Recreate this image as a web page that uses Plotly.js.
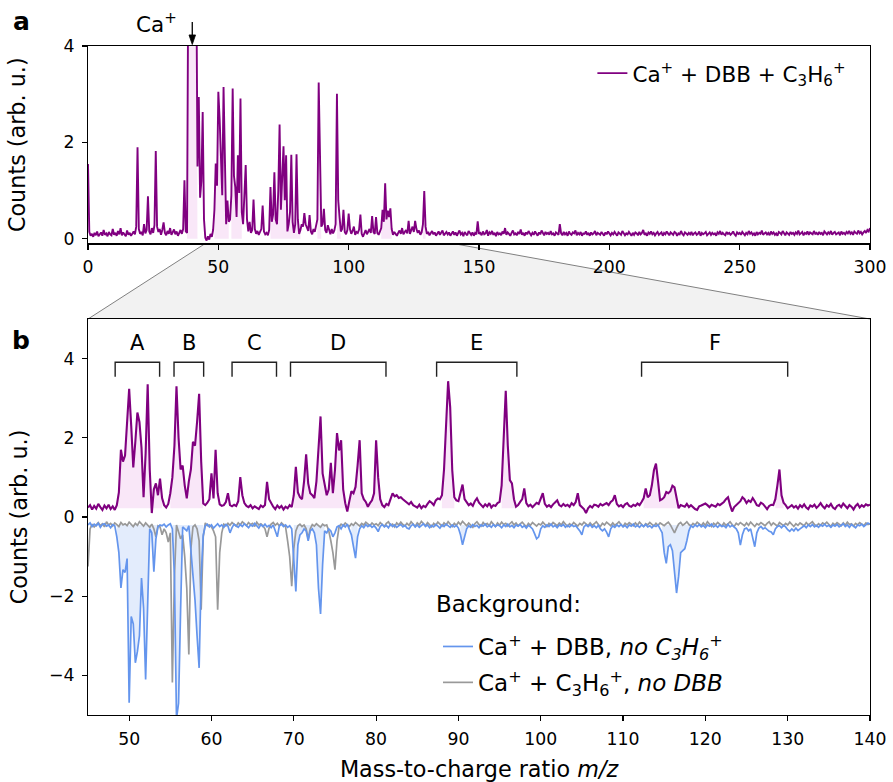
<!DOCTYPE html>
<html><head><meta charset="utf-8">
<script src="https://cdn.plot.ly/plotly-3.0.1.min.js"></script>
<style>html,body{margin:0;padding:0;background:#fff}#chart{width:893px;height:782px}</style>
</head><body><div id="chart"></div>
<script>
// ---------- data ----------
// Panel a: full spectrum, m/z 0..300, step 0.5
const fullStart = 0, fullStep = 0.5;
const fullCounts = [
1.55,0.14,0.06,0.10,0.04,0.12,0.07,0.15,0.05,0.09,
0.13,0.06,0.18,0.08,0.11,0.05,0.14,0.09,0.07,0.20,
0.08,0.12,0.06,0.16,0.09,0.22,0.07,0.13,0.10,0.05,
0.17,0.08,0.12,0.06,0.10,0.15,0.09,0.25,1.90,0.20,
0.10,0.14,0.07,0.30,0.11,0.18,0.88,0.15,0.09,0.22,
0.12,0.28,1.82,0.25,0.14,0.20,0.08,0.18,0.34,0.12,
0.07,0.16,0.10,0.22,0.08,0.13,0.19,0.09,0.15,0.06,
0.12,0.18,0.10,0.20,1.21,0.15,0.12,6.00,8.00,8.00,
8.00,8.00,8.00,6.00,1.50,2.94,0.85,1.20,2.63,0.40,
0.02,-0.04,0.05,-0.02,0.10,0.04,0.18,0.60,1.56,1.10,
3.05,2.49,1.40,0.90,3.15,1.20,0.30,0.79,0.35,0.40,
0.90,3.12,1.30,1.07,0.45,1.73,0.95,2.91,0.55,0.30,
0.89,1.53,0.40,0.15,0.35,0.12,0.18,0.81,0.20,0.10,
0.16,0.08,0.14,0.20,0.69,0.15,0.09,0.12,0.07,0.18,
1.07,0.35,0.50,1.38,0.40,0.30,1.00,2.37,0.60,1.19,
1.92,0.80,1.73,0.15,0.30,0.55,1.74,0.35,0.12,0.30,
1.75,0.40,0.10,0.18,0.30,0.25,0.53,0.30,0.22,0.16,
0.49,0.15,0.09,0.20,0.14,0.25,0.40,3.24,1.20,0.25,
0.30,0.62,0.18,0.12,0.28,0.15,0.09,0.20,0.11,0.17,
0.30,3.01,0.80,0.45,0.15,0.20,0.60,0.14,0.09,0.18,
0.52,0.20,0.10,0.16,0.25,0.08,0.14,0.12,0.19,0.50,
0.10,0.04,0.12,0.18,0.09,0.15,0.20,0.12,0.47,0.14,
0.10,0.45,0.12,0.08,0.16,0.22,0.60,0.35,1.15,0.40,
0.58,0.45,0.63,0.20,0.08,0.14,0.10,0.06,0.12,0.17,
0.10,0.22,0.09,0.13,0.18,0.11,0.37,0.10,0.16,0.25,
0.14,0.37,0.20,0.12,0.17,0.08,0.13,0.30,0.99,0.25,
0.10,0.14,0.07,0.12,0.16,0.09,0.13,0.06,0.11,0.15,
0.08,0.12,0.17,0.07,0.10,0.14,0.09,0.13,0.06,0.11,
0.15,
0.08,0.13,0.06,0.11,0.17,0.09,0.12,0.05,0.14,0.10,0.07,0.16,0.11,0.08,0.13,0.06,0.12,0.09,0.36,0.10,
0.12,0.07,0.15,0.09,0.11,0.18,0.06,0.13,0.10,0.16,0.08,0.12,0.05,0.14,0.09,0.11,0.07,0.15,0.10,0.22,
0.08,0.13,0.10,0.06,0.12,0.17,0.09,0.11,0.07,0.14,0.10,0.19,0.08,0.12,0.06,0.13,0.09,0.16,0.11,0.07,
0.12,0.08,0.15,0.10,0.06,0.13,0.09,0.17,0.11,0.07,0.14,0.10,0.12,0.08,0.16,0.09,0.11,0.06,0.13,0.10,
0.08,0.30,0.11,0.07,0.14,0.09,0.12,0.06,0.15,0.10,0.08,0.13,0.11,0.17,0.07,0.12,0.09,0.14,0.06,0.11,
0.10,0.15,0.08,0.12,0.06,0.13,0.09,0.11,0.16,0.07,0.12,0.10,0.08,0.14,0.11,0.06,0.13,0.09,0.15,0.10,
0.07,0.12,0.09,0.14,0.11,0.06,0.13,0.10,0.08,0.16,0.12,0.07,0.11,0.09,0.14,0.10,0.06,0.12,0.08,0.13,
0.11,0.07,0.14,0.09,0.12,0.18,0.08,0.11,0.06,0.13,0.10,0.15,0.09,0.12,0.07,0.11,0.14,0.08,0.10,0.13,
0.06,0.12,0.09,0.15,0.11,0.07,0.13,0.10,0.08,0.14,0.12,0.06,0.11,0.09,0.16,0.10,0.07,0.13,0.11,0.08,
0.12,0.09,0.14,0.07,0.11,0.13,0.08,0.10,0.15,0.06,0.12,0.09,0.11,0.14,0.07,0.10,0.13,0.08,0.12,0.09,
0.11,0.06,0.13,0.10,0.16,0.08,0.12,0.09,0.07,0.14,0.10,0.12,0.08,0.11,0.15,0.09,0.06,0.13,0.10,0.12,
0.08,0.14,0.11,0.07,0.12,0.09,0.16,0.10,0.13,0.08,0.11,0.06,0.14,0.09,0.12,0.10,0.17,0.08,0.11,0.13,
0.09,0.12,0.07,0.15,0.10,0.13,0.08,0.11,0.06,0.14,0.12,0.09,0.16,0.10,0.07,0.13,0.11,0.08,0.14,0.10,
0.12,0.08,0.13,0.10,0.17,0.09,0.11,0.14,0.07,0.12,0.10,0.15,0.08,0.13,0.11,0.09,0.16,0.10,0.12,0.08,
0.14,0.10,0.12,0.07,0.15,0.11,0.09,0.13,0.10,0.16,0.08,0.12,0.14,0.09,0.11,0.13,0.07,0.15,0.10,0.12,
0.09,0.14,0.11,0.16,0.10,0.13,0.08,0.15,0.12,0.10,0.17,0.11,0.14,0.09,0.13,0.16,0.12,0.18,0.15,0.22
];

// Panel b: zoom m/z 45..140, step 0.25
const zoomStart = 45, zoomStep = 0.25;
const zoomSignal = [
0.24,0.30,0.19,0.28, 0.21,0.33,0.25,0.18, 0.29,0.22,0.31,0.20, 0.27,0.18,0.30,0.62,
1.70,1.40,1.55,2.55, 3.24,2.30,1.25,1.90, 2.64,2.40,1.75,0.50, 1.60,3.35,1.20,0.10,
0.70,0.85,0.55,0.97, 0.48,0.30,0.24,0.33, 0.60,1.00,1.80,3.30, 2.00,1.20,1.30,0.80,
0.47,0.90,1.20,1.90, 1.80,2.40,3.11,1.40, 0.34,0.30,0.36,0.45, 1.10,0.47,1.70,0.60,
0.32,0.28,0.30,0.38, 0.60,0.30,0.27,0.31, 0.28,0.40,1.01,0.55, 0.35,0.28,0.25,0.30,
0.22,0.27,0.24,0.20, 0.29,0.25,0.30,0.89, 0.45,0.35,0.26,0.20, 0.29,0.23,0.28,0.19,
0.26,0.22,0.30,0.25, 0.55,1.27,0.62,0.50, 0.45,0.90,1.58,0.85, 0.60,0.55,0.48,0.90,
1.60,2.54,1.10,0.85, 0.55,0.70,1.37,0.60, 1.18,2.12,1.68,1.94, 0.70,0.35,0.14,0.40,
0.65,0.60,0.76,1.30, 1.94,0.60,0.45,0.38, 0.26,0.35,0.42,0.60, 1.94,1.00,0.45,0.30,
0.25,0.33,0.30,0.45, 0.60,0.52,0.55,0.48, 0.50,0.45,0.40,0.36, 0.32,0.38,0.30,0.27,
0.24,0.31,0.22,0.28, 0.25,0.33,0.40,0.36, 0.30,0.42,0.47,0.45, 0.55,1.20,2.50,3.43,
2.77,1.18,0.50,0.42, 0.40,0.60,0.82,0.45, 0.38,0.30,0.34,0.28, 0.40,0.47,0.36,0.30,
0.25,0.32,0.27,0.35, 0.24,0.30,0.28,0.35, 0.38,0.80,2.00,3.19, 1.80,0.93,0.85,0.45,
0.26,0.30,0.38,0.45, 0.72,0.35,0.27,0.31, 0.25,0.30,0.36,0.33, 0.45,0.60,0.33,0.26,
0.30,0.25,0.32,0.38, 0.42,0.30,0.27,0.33, 0.28,0.31,0.26,0.35, 0.30,0.38,0.60,0.30,
0.25,0.20,0.10,0.22, 0.28,0.24,0.31,0.30, 0.26,0.33,0.29,0.32, 0.35,0.30,0.38,0.42,
0.55,0.33,0.27,0.30, 0.25,0.32,0.35,0.28, 0.26,0.31,0.28,0.34, 0.30,0.38,0.47,0.72,
0.50,0.55,0.80,1.18, 1.35,0.90,0.42,0.45, 0.50,0.63,0.60,0.65, 0.79,0.75,0.45,0.22,
0.30,0.28,0.26,0.33, 0.25,0.30,0.24,0.20, 0.18,0.27,0.29,0.32, 0.34,0.30,0.25,0.31,
0.28,0.26,0.33,0.30, 0.34,0.38,0.45,0.50, 0.30,0.14,0.25,0.30, 0.34,0.40,0.50,0.45,
0.35,0.42,0.38,0.48, 0.40,0.30,0.28,0.36, 0.33,0.25,0.20,0.28, 0.31,0.30,0.45,0.80,
1.20,0.55,0.36,0.30, 0.22,0.26,0.30,0.24, 0.28,0.21,0.30,0.25, 0.32,0.24,0.20,0.29,
0.26,0.31,0.23,0.28, 0.35,0.27,0.22,0.30, 0.26,0.33,0.24,0.20, 0.28,0.31,0.25,0.34,
0.27,0.22,0.30,0.26, 0.19,0.28,0.33,0.24, 0.30,0.26,0.32,0.29, 0.31
];
const zoomNoC3H6 = [
-0.20,-0.15,-0.24,-0.18, -0.22,-0.16,-0.26,-0.19, -0.17,-0.23,-0.20,-0.27, -0.19,-0.22,-0.50,-0.90,
-1.79,-1.33,-1.40,-1.05, -4.69,-2.51,-2.70,-3.68, -3.40,-3.00,-1.54,-2.30, -4.10,-2.20,-0.30,-0.40,
-1.38,-0.55,-0.25,-0.20, -0.22,-0.18,-0.25,-0.20, -0.17,-0.30,-1.50,-5.10, -4.70,-2.34,-0.25,-0.30,
-0.35,-0.22,-0.80,-1.33, -2.10,-3.00,-3.81,-1.50, -0.46,-0.22,-0.18,-0.25, -0.20,-0.28,-0.21,-0.17,
-0.24,-0.20,-0.26,-0.19, -0.23,-0.40,-0.27,-0.18, -0.22,-0.26,-0.19,-0.24, -0.17,-0.21,-0.27,-0.20,
-0.23,-0.16,-0.22,-0.28, -0.19,-0.24,-0.18,-0.25, -0.21,-0.27,-0.20,-0.35, -0.50,-0.22,-0.18,-0.24,
-0.20,-0.26,-0.22,-0.30, -1.20,-1.88,-0.70,-0.45, -0.40,-0.30,-0.35,-0.60, -0.35,-0.30,-0.40,-0.70,
-1.80,-2.45,-1.20,-0.35, -0.40,-0.30,-0.35,-0.50, -0.40,-0.25,-0.22,-0.30, -0.20,-0.25,-0.18,-0.30,
-0.45,-0.75,-1.04,-0.50, -0.30,-0.22,-0.27,-0.19, -0.24,-0.20,-0.26,-0.22, -0.28,-0.37,-0.24,-0.19,
-0.25,-0.21,-0.27,-0.18, -0.24,-0.20,-0.26,-0.22, -0.19,-0.25,-0.21,-0.28, -0.30,-0.22,-0.18,-0.25,
-0.20,-0.26,-0.22,-0.17, -0.24,-0.20,-0.27,-0.21, -0.25,-0.19,-0.23,-0.28, -0.20,-0.24,-0.18,-0.22,
-0.26,-0.20,-0.25,-0.21, -0.28,-0.45,-0.70,-0.50, -0.30,-0.22,-0.26,-0.19, -0.24,-0.21,-0.27,-0.20,
-0.23,-0.18,-0.25,-0.21, -0.26,-0.19,-0.24,-0.20, -0.22,-0.27,-0.20,-0.24, -0.18,-0.25,-0.21,-0.27,
-0.20,-0.23,-0.19,-0.26, -0.22,-0.28,-0.21,-0.25, -0.30,-0.42,-0.55,-0.50, -0.30,-0.22,-0.26,-0.20,
-0.24,-0.18,-0.25,-0.21, -0.27,-0.20,-0.23,-0.19, -0.26,-0.21,-0.25,-0.20, -0.24,-0.22,-0.28,-0.35,
-0.45,-0.25,-0.20,-0.24, -0.19,-0.26,-0.22,-0.27, -0.21,-0.30,-0.35,-0.30, -0.38,-0.50,-0.30,-0.22,
-0.26,-0.20,-0.24,-0.19, -0.25,-0.21,-0.27,-0.20, -0.23,-0.18,-0.25,-0.21, -0.26,-0.20,-0.24,-0.19,
-0.25,-0.22,-0.27,-0.21, -0.24,-0.20,-0.30,-0.40, -0.90,-1.17,-0.75,-0.70, -0.85,-1.40,-1.92,-1.50,
-0.90,-0.85,-0.80,-0.60, -0.35,-0.22,-0.26,-0.20, -0.24,-0.19,-0.25,-0.21, -0.27,-0.20,-0.23,-0.18,
-0.25,-0.21,-0.26,-0.20, -0.24,-0.22,-0.27,-0.19, -0.25,-0.21,-0.26,-0.30, -0.40,-0.71,-0.45,-0.30,
-0.28,-0.35,-0.30,-0.50, -0.75,-0.40,-0.28,-0.24, -0.30,-0.27,-0.32,-0.36, -0.38,-0.45,-0.30,-0.24,
-0.22,-0.27,-0.21,-0.25, -0.32,-0.36,-0.30,-0.35, -0.28,-0.34,-0.30,-0.26, -0.22,-0.27,-0.20,-0.24,
-0.19,-0.25,-0.21,-0.26, -0.20,-0.23,-0.18,-0.24, -0.21,-0.26,-0.20,-0.23, -0.19,-0.25,-0.21,-0.17,
-0.24,-0.20,-0.26,-0.19, -0.23,-0.27,-0.20,-0.22, -0.18,-0.24,-0.20,-0.15, -0.18
];
const zoomNoDBB = [
-1.25,-0.30,-0.18,-0.25, -0.20,-0.14,-0.22,-0.17, -0.25,-0.12,-0.20,-0.16, -0.23,-0.15,-0.19,-0.24,
-0.14,-0.20,-0.17,-0.22, -0.13,-0.19,-0.24,-0.16, -0.21,-0.12,-0.18,-0.23, -0.15,-0.20,-0.26,-0.18,
-0.30,-0.50,-0.22,-0.25, -0.45,-0.30,-0.40,-0.63, -0.40,-4.18,-1.50,-0.20, -0.35,-0.55,-0.45,-1.00,
-1.80,-3.47,-0.80,-0.25, -0.20,-0.30,-0.60,-2.34, -0.50,-0.15,-0.22,-0.20, -0.25,-0.35,-0.50,-2.34,
-0.90,-0.40,-0.18,-0.22, -0.16,-0.21,-0.14,-0.19, -0.23,-0.15,-0.20,-0.12, -0.18,-0.22,-0.14,-0.19,
-0.16,-0.24,-0.13,-0.20, -0.17,-0.22,-0.30,-0.50, -0.28,-0.18,-0.14,-0.21, -0.16,-0.23,-0.15,-0.20,
-0.25,-0.60,-1.00,-1.75, -0.80,-0.35,-0.22,-0.18, -0.24,-0.20,-0.30,-0.55, -0.30,-0.19,-0.23,-0.17,
-0.21,-0.26,-0.18,-0.22, -0.20,-0.35,-0.60,-0.90, -1.33,-0.60,-0.25,-0.18, -0.22,-0.15,-0.20,-0.24,
-0.17,-0.21,-0.14,-0.19, -0.23,-0.16,-0.20,-0.13, -0.18,-0.22,-0.15,-0.20, -0.17,-0.22,-0.14,-0.19,
-0.24,-0.16,-0.12,-0.21, -0.18,-0.25,-0.15,-0.20, -0.13,-0.19,-0.23,-0.16, -0.21,-0.12,-0.18,-0.24,
-0.15,-0.20,-0.11,-0.17, -0.22,-0.14,-0.19,-0.25, -0.16,-0.21,-0.13,-0.18, -0.23,-0.15,-0.20,-0.12,
-0.18,-0.24,-0.16,-0.21, -0.13,-0.19,-0.11,-0.17, -0.22,-0.15,-0.20,-0.26, -0.17,-0.12,-0.19,-0.23,
-0.14,-0.20,-0.16,-0.22, -0.12,-0.18,-0.24,-0.15, -0.21,-0.13,-0.19,-0.16, -0.23,-0.17,-0.12,-0.20,
-0.15,-0.22,-0.18,-0.13, -0.19,-0.25,-0.16,-0.21, -0.14,-0.18,-0.23,-0.17, -0.20,-0.13,-0.19,-0.24,
-0.16,-0.21,-0.14,-0.18, -0.22,-0.15,-0.20,-0.12, -0.18,-0.24,-0.17,-0.21, -0.14,-0.19,-0.23,-0.16,
-0.20,-0.13,-0.18,-0.22, -0.15,-0.21,-0.17,-0.12, -0.19,-0.24,-0.16,-0.20, -0.13,-0.18,-0.22,-0.15,
-0.21,-0.17,-0.12,-0.19, -0.24,-0.16,-0.20,-0.14, -0.18,-0.22,-0.15,-0.21, -0.13,-0.19,-0.24,-0.17,
-0.20,-0.14,-0.18,-0.23, -0.16,-0.21,-0.15,-0.19, -0.22,-0.17,-0.13,-0.20, -0.30,-0.40,-0.28,-0.18,
-0.14,-0.21,-0.17,-0.12, -0.19,-0.23,-0.16,-0.20, -0.13,-0.18,-0.22,-0.15, -0.21,-0.12,-0.19,-0.24,
-0.16,-0.20,-0.14,-0.18, -0.23,-0.15,-0.21,-0.17, -0.12,-0.19,-0.24,-0.16, -0.20,-0.14,-0.18,-0.22,
-0.15,-0.21,-0.13,-0.19, -0.24,-0.17,-0.20,-0.14, -0.18,-0.22,-0.16,-0.12, -0.21,-0.15,-0.19,-0.23,
-0.14,-0.18,-0.22,-0.16, -0.20,-0.13,-0.19,-0.24, -0.17,-0.21,-0.15,-0.18, -0.22,-0.14,-0.20,-0.16,
-0.12,-0.19,-0.23,-0.17, -0.21,-0.15,-0.18,-0.13, -0.19,-0.24,-0.16,-0.20, -0.14,-0.18,-0.22,-0.15,
-0.21,-0.13,-0.19,-0.17, -0.23,-0.16,-0.20,-0.14, -0.18,-0.22,-0.15,-0.19, -0.17
];

// group brackets in panel b
const groupLabels = ['A','B','C','D','E','F'];
const groupStart  = [48.3, 55.45, 62.5, 69.6, 87.35, 112.25];
const groupEnd    = [53.7, 59.05, 67.9, 81.2, 97.1, 130.0];

// shaded regions (m/z ranges)
const caRegion = [[38.0, 42.4]];
const signalRegions = [[48.5,54.0],[55.0,59.2],[69.8,81.5],[87.9,89.6],[95.1,97.0],[112.4,116.8],[128.5,129.6]];
const bgRegions = [[48.4,53.6],[55.2,59.1],[69.8,73.9],[76.9,77.9],[90.1,91.0],[114.6,118.0]];

// ---------- styling ----------
const FONT = 'DejaVu Sans, sans-serif';
const FS = 17.3;      // tick labels
const FT = 22.3;      // axis titles
const FL = 21.5;      // top legend, annotations
const FL2 = 23;       // bottom legend
const PURPLE = '#800080', BLUE = '#6495ED', GRAY = '#999999';
const PINK_FILL = 'rgba(218,112,214,0.17)', BLUE_FILL = 'rgba(100,149,237,0.18)';
const topRange = [0, 300], zoomRange = [45, 140];

function regionPoly(x0, dx, ys, lo, hi, base) {
  const xs = [], yv = [];
  for (let i = 0; i < ys.length; i++) {
    const x = x0 + i * dx;
    if (x >= lo - 1e-9 && x <= hi + 1e-9) { xs.push(x); yv.push(ys[i]); }
  }
  return { x: xs.concat(xs.slice().reverse()), y: yv.concat(xs.map(() => base)) };
}
function fillTrace(poly, color, xa, ya) {
  return { x: poly.x, y: poly.y, xaxis: xa, yaxis: ya, type: 'scatter', mode: 'lines',
           fill: 'toself', fillcolor: color, line: { width: 0 }, showlegend: false, hoverinfo: 'skip' };
}

const traces = [];
caRegion.concat(signalRegions).forEach(r => traces.push(fillTrace(regionPoly(fullStart, fullStep, fullCounts, r[0], r[1], 0.0), PINK_FILL, 'x', 'y')));
signalRegions.forEach(r => traces.push(fillTrace(regionPoly(zoomStart, zoomStep, zoomSignal, r[0], r[1], 0.22), PINK_FILL, 'x2', 'y2')));
bgRegions.forEach(r => traces.push(fillTrace(regionPoly(zoomStart, zoomStep, zoomNoC3H6, r[0], r[1], -0.2), BLUE_FILL, 'x2', 'y2')));

traces.push({ type: 'scatter', mode: 'lines', x0: fullStart, dx: fullStep, y: fullCounts, xaxis: 'x', yaxis: 'y',
  line: { color: PURPLE, width: 1.9 }, name: 'Ca<sup>+</sup> + DBB + C<sub>3</sub>H<sub>6</sub><sup>+</sup>', legend: 'legend' });
traces.push({ type: 'scatter', mode: 'lines', x0: zoomStart, dx: zoomStep, y: zoomNoDBB, xaxis: 'x2', yaxis: 'y2',
  line: { color: GRAY, width: 1.7 }, name: 'Ca<sup>+</sup> + C<sub>3</sub>H<sub>6</sub><sup>+</sup>, <i>no DBB</i>', legend: 'legend2', legendgroup: 'g2', legendrank: 2 });
traces.push({ type: 'scatter', mode: 'lines', x0: zoomStart, dx: zoomStep, y: zoomNoC3H6, xaxis: 'x2', yaxis: 'y2',
  line: { color: BLUE, width: 1.7 }, name: 'Ca<sup>+</sup> + DBB, <i>no C<sub>3</sub>H<sub>6</sub><sup>+</sup></i>', legend: 'legend2', legendgroup: 'g1', legendrank: 1 });
traces.push({ type: 'scatter', mode: 'lines', x0: zoomStart, dx: zoomStep, y: zoomSignal, xaxis: 'x2', yaxis: 'y2',
  line: { color: PURPLE, width: 2.1 }, showlegend: false });

// shapes: brackets, zoom connector, Ca+ arrow
const shapes = [];
const bracketTop = 3.91, bracketLeg = 3.54;
groupLabels.forEach((g, i) => {
  shapes.push({ type: 'path', xref: 'x2', yref: 'y2',
    path: `M ${groupStart[i]},${bracketLeg} L ${groupStart[i]},${bracketTop} L ${groupEnd[i]},${bracketTop} L ${groupEnd[i]},${bracketLeg}`,
    line: { color: '#222', width: 1.4 } });
});
const topDom = [0.7048, 1], botDom = [0, 0.5919];
const zx0 = (zoomRange[0] - topRange[0]) / (topRange[1] - topRange[0]);
const zx1 = (zoomRange[1] - topRange[0]) / (topRange[1] - topRange[0]);
shapes.push({ type: 'path', xref: 'paper', yref: 'paper', layer: 'below',
  path: `M ${zx0},${topDom[0]} L ${zx1},${topDom[0]} L 1,${botDom[1]} L 0,${botDom[1]} Z`,
  fillcolor: '#f2f2f2', line: { width: 0 } });
shapes.push({ type: 'line', xref: 'paper', yref: 'paper', layer: 'below', x0: zx0, y0: topDom[0], x1: 0, y1: botDom[1], line: { color: '#808080', width: 1 } });
shapes.push({ type: 'line', xref: 'paper', yref: 'paper', layer: 'below', x0: zx1, y0: topDom[0], x1: 1, y1: botDom[1], line: { color: '#808080', width: 1 } });
const caX = 40.0;
shapes.push({ type: 'line', xref: 'x', yref: 'paper', x0: caX, x1: caX, y0: 1.036, y1: 1.012, line: { color: '#000', width: 1.3 } });
shapes.push({ type: 'path', xref: 'x', yref: 'paper', path: `M ${caX - 1.25},1.0165 L ${caX + 1.25},1.0165 L ${caX},1.0022 Z`,
  fillcolor: '#000', line: { color: '#000', width: 0.8 } });

const annotations = [];
groupLabels.forEach((g, i) => {
  annotations.push({ xref: 'x2', yref: 'y2', x: (groupStart[i] + groupEnd[i]) / 2, y: 4.39, text: g, showarrow: false,
    font: { family: FONT, size: 21, color: '#000' }, xanchor: 'center', yanchor: 'middle' });
});
annotations.push({ xref: 'paper', yref: 'paper', x: -0.0855, y: 1.037, text: '<b>a</b>', showarrow: false,
  font: { family: FONT, size: 25, color: '#000' }, xanchor: 'center', yanchor: 'middle' });
annotations.push({ xref: 'paper', yref: 'paper', x: -0.0855, y: 0.5605, text: '<b>b</b>', showarrow: false,
  font: { family: FONT, size: 25, color: '#000' }, xanchor: 'center', yanchor: 'middle' });
annotations.push({ xref: 'paper', yref: 'paper', x: 0.0875, y: 1.034, text: 'Ca<sup>+</sup>', showarrow: false,
  font: { family: FONT, size: FL, color: '#000' }, xanchor: 'center', yanchor: 'middle' });
// bottom legend heading
annotations.push({ xref: 'paper', yref: 'paper', x: 0.4425, y: 0.1652, text: 'Background:', showarrow: false,
  font: { family: FONT, size: FL2, color: '#000' }, xanchor: 'left', yanchor: 'middle' });

const axBase = { showline: true, mirror: true, linecolor: '#000', linewidth: 1.1, ticks: 'outside', ticklen: 5,
  tickwidth: 1.1, tickcolor: '#000', showgrid: false, zeroline: false, tickfont: { family: FONT, size: FS, color: '#000' } };

const layout = {
  width: 893, height: 782, paper_bgcolor: '#fff', plot_bgcolor: 'rgba(0,0,0,0)',
  margin: { l: 88, r: 23, t: 46, b: 67 },
  font: { family: FONT, size: FS, color: '#000' },
  xaxis: Object.assign({}, axBase, { domain: [0, 1], anchor: 'y', range: topRange, tick0: 0, dtick: 50, ticklabelstandoff: 3 }),
  yaxis: Object.assign({}, axBase, { domain: topDom, anchor: 'x', range: [-0.1, 4], tick0: 0, dtick: 2, ticklabelstandoff: 4,
    title: { text: 'Counts (arb. u.)', font: { family: FONT, size: FT }, standoff: 31 } }),
  xaxis2: Object.assign({}, axBase, { domain: [0, 1], anchor: 'y2', range: zoomRange, tick0: 50, dtick: 10, ticklabelstandoff: 3,
    title: { text: 'Mass-to-charge ratio <i>m/z</i>', font: { family: FONT, size: FT }, standoff: 16 } }),
  yaxis2: Object.assign({}, axBase, { domain: botDom, anchor: 'x2', range: [-5, 5], tick0: 0, dtick: 2, ticklabelstandoff: 4,
    title: { text: 'Counts (arb. u.)', font: { family: FONT, size: FT }, standoff: 15 } }),
  legend: { x: 0.645, y: 0.99, xanchor: 'left', yanchor: 'top', bgcolor: 'rgba(0,0,0,0)',
    font: { family: FONT, size: FL, color: '#000' } },
  legend2: { x: 0.4476, y: 0.1345, xanchor: 'left', yanchor: 'top', bgcolor: 'rgba(0,0,0,0)', tracegroupgap: 3,
    font: { family: FONT, size: FL2, color: '#000' } },
  shapes: shapes, annotations: annotations, showlegend: true
};

Plotly.newPlot('chart', traces, layout, { displayModeBar: false, staticPlot: true });
</script></body></html>
